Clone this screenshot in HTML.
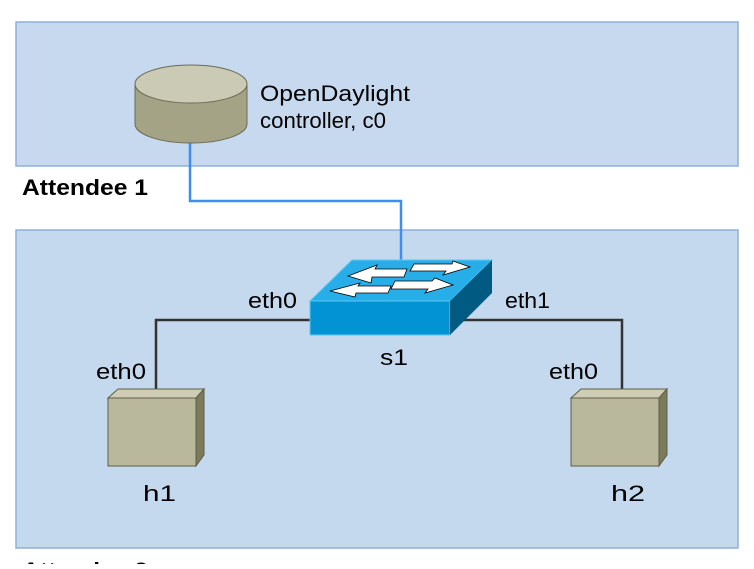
<!DOCTYPE html>
<html><head><style>
body{margin:0;width:754px;height:564px;background:#fff;overflow:hidden;font-family:"Liberation Sans",sans-serif}
</style></head><body>
<svg width="754" height="564" xmlns="http://www.w3.org/2000/svg" font-family="Liberation Sans, sans-serif">
<rect x="16" y="22" width="722" height="144" fill="#c6d9ee" stroke="#8fb0d8" stroke-width="1.5"/>
<rect x="16" y="230" width="722" height="318" fill="#c4d8ee" stroke="#8fb0d8" stroke-width="1.5"/>
<text x="22" y="195" font-size="22" font-weight="bold" textLength="126" lengthAdjust="spacingAndGlyphs">Attendee 1</text>
<text x="22" y="578" font-size="22" font-weight="bold" textLength="126" lengthAdjust="spacingAndGlyphs">Attendee 2</text>
<!-- controller link -->
<polyline points="190,140 190,201 401,201 401,265" fill="none" stroke="#3d8ef0" stroke-width="2.5"/>
<!-- cylinder -->
<path d="M135,84 L135,124 A56,19 0 0 0 247,124 L247,84 Z" fill="#a5a385" stroke="#6b6b55" stroke-width="1"/>
<ellipse cx="191" cy="84" rx="56" ry="19" fill="#cbcab4" stroke="#6b6b55" stroke-width="1"/>
<text x="260" y="101" font-size="22" textLength="150" lengthAdjust="spacingAndGlyphs">OpenDaylight</text>
<text x="260" y="128" font-size="22" textLength="126" lengthAdjust="spacingAndGlyphs">controller, c0</text>
<!-- links -->
<polyline points="312,320 156,320 156,390" fill="none" stroke="#333" stroke-width="2.5"/>
<polyline points="455,320 622,320 622,390" fill="none" stroke="#333" stroke-width="2.5"/>
<text x="248" y="308" font-size="22" textLength="49" lengthAdjust="spacingAndGlyphs">eth0</text>
<text x="505" y="308" font-size="22" textLength="45" lengthAdjust="spacingAndGlyphs">eth1</text>
<text x="96" y="379" font-size="22" textLength="50" lengthAdjust="spacingAndGlyphs">eth0</text>
<text x="549" y="379" font-size="22" textLength="49" lengthAdjust="spacingAndGlyphs">eth0</text>
<!-- switch -->
<polygon points="310,301 352,260 492,260 450,301" fill="#27aee8" stroke="#5cc8f5" stroke-width="1"/>
<rect x="310" y="301" width="140" height="34" fill="#0193d3" stroke="#5cc8f5" stroke-width="1"/>
<polygon points="450,301 492,260 492,293 450,335" fill="#005a82"/>
<g fill="#fff" stroke="#000" stroke-width="0.8">
<polygon points="348,276 377,265 375,269 407,269 404,277 372,277 371,283"/>
<polygon points="330,291 360,283 358,286 391,286 388,293 356,293 355,297"/>
<polygon points="414,264 452,264 453,261 470,267 443,275 446,271 410,271"/>
<polygon points="395,281 432,281 435,278 453,285 425,293 428,289 391,289"/>
</g>
<text x="380" y="365" font-size="22" textLength="28" lengthAdjust="spacingAndGlyphs">s1</text>
<!-- h1 -->
<polygon points="108,398 118,389 204,389 196,398" fill="#cfcdb3" stroke="#5e5e45"/>
<polygon points="196,398 204,389 204,455 196,466" fill="#7b7a5a" stroke="#5e5e45"/>
<rect x="108" y="398" width="88" height="68" fill="#b9b89d" stroke="#5e5e45"/>
<text x="143" y="501" font-size="22" textLength="33" lengthAdjust="spacingAndGlyphs">h1</text>
<!-- h2 -->
<polygon points="571,398 581,389 667,389 659,398" fill="#cfcdb3" stroke="#5e5e45"/>
<polygon points="659,398 667,389 667,455 659,466" fill="#7b7a5a" stroke="#5e5e45"/>
<rect x="571" y="398" width="88" height="68" fill="#b9b89d" stroke="#5e5e45"/>
<text x="611" y="501" font-size="22" textLength="34" lengthAdjust="spacingAndGlyphs">h2</text>
</svg>
</body></html>
